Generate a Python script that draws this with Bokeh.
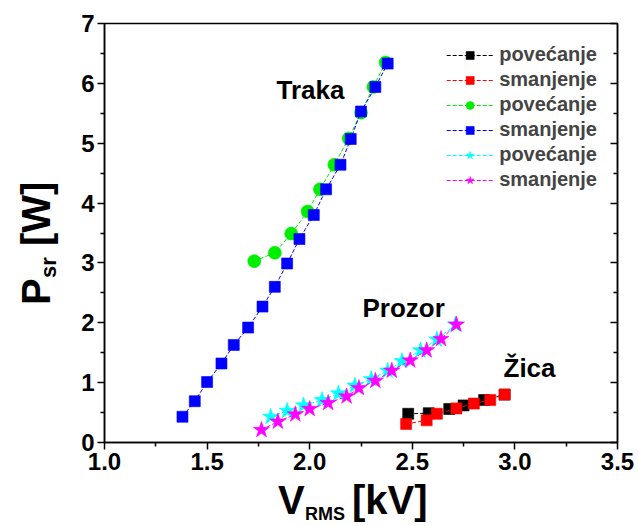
from bokeh.plotting import figure
from bokeh.models import (Range1d, LinearAxis, Label, Legend, LegendItem, FixedTicker,
                          CustomJSTickFormatter, Div)
from bokeh.layouts import row, column
from bokeh.embed import file_html
from bokeh.resources import INLINE

# ---- data ----
zica_up_x = [2.48, 2.58, 2.68, 2.75, 2.85, 2.95]
zica_up_y = [0.48, 0.49, 0.56, 0.62, 0.71, 0.80]
zica_dn_x = [2.47, 2.57, 2.62, 2.715, 2.80, 2.88, 2.95]
zica_dn_y = [0.31, 0.37, 0.48, 0.57, 0.65, 0.71, 0.80]

traka_up_x = [1.73, 1.83, 1.91, 1.99, 2.05, 2.12, 2.19, 2.25, 2.31, 2.37]
traka_up_y = [3.03, 3.17, 3.49, 3.86, 4.23, 4.64, 5.08, 5.51, 5.94, 6.35]
traka_dn_x = [1.38, 1.44, 1.50, 1.57, 1.63, 1.70, 1.77, 1.83, 1.89, 1.95,
              2.02, 2.08, 2.15, 2.20, 2.25, 2.32, 2.38]
traka_dn_y = [0.43, 0.69, 1.01, 1.32, 1.63, 1.92, 2.27, 2.60, 2.99, 3.40,
              3.80, 4.23, 4.64, 5.07, 5.53, 5.94, 6.33]

prozor_up_x = [1.81, 1.89, 1.97, 2.06, 2.14, 2.22, 2.30, 2.38, 2.45, 2.54, 2.62, 2.71]
prozor_up_y = [0.43, 0.53, 0.62, 0.71, 0.82, 0.95, 1.06, 1.20, 1.36, 1.54, 1.72, 1.97]
prozor_dn_x = [1.765, 1.845, 1.93, 2.00, 2.09, 2.18, 2.24, 2.32, 2.40, 2.49, 2.57, 2.64, 2.715]
prozor_dn_y = [0.21, 0.35, 0.47, 0.56, 0.66, 0.77, 0.91, 1.03, 1.20, 1.37, 1.54, 1.73, 1.97]

series_labels = ["povećanje", "smanjenje", "povećanje", "smanjenje", "povećanje", "smanjenje"]
x_ticks = [1.0, 1.5, 2.0, 2.5, 3.0, 3.5]
y_ticks = [0, 1, 2, 3, 4, 5, 6, 7]

FONT = "Liberation Sans"

# ---- layout geometry (page pixels) ----
W, H = 638, 526
YW = 60                 # width of the y-title block
FL, FT, FW, FH = 104, 23, 513, 419
MB = 40
MH = FT + FH + MB       # main figure height
XH = H - MH             # height of the x-title block

p = figure(title=None, frame_width=FW, frame_height=FH, output_backend="svg",
           toolbar_location=None, x_range=Range1d(1.0, 3.5), y_range=Range1d(0, 7),
           min_border_left=FL - YW, min_border_right=W - FL - FW,
           min_border_top=FT, min_border_bottom=MB)
p.background_fill_color = "white"
p.border_fill_color = "white"
p.xgrid.visible = False
p.ygrid.visible = False
p.outline_line_color = "black"
p.outline_line_width = 1.5


def style_axis(ax, ticks, show_labels=True, inward=False):
    step = ticks[1] - ticks[0]
    ax.ticker = FixedTicker(ticks=ticks, minor_ticks=[t + step / 2 for t in ticks[:-1]])
    ax.axis_line_width = 1.5
    ax.major_tick_line_width = 1.5
    ax.minor_tick_line_width = 1.5
    if inward:
        ax.major_tick_in, ax.major_tick_out = 7, 0
        ax.minor_tick_in, ax.minor_tick_out = 4, 0
    else:
        ax.major_tick_in, ax.major_tick_out = 0, 7
        ax.minor_tick_in, ax.minor_tick_out = 0, 4
    ax.major_label_text_font = FONT
    ax.major_label_text_font_style = "bold"
    ax.major_label_text_font_size = "24px"
    ax.major_label_text_color = "black"
    ax.major_label_standoff = 3
    if not show_labels:
        ax.formatter = CustomJSTickFormatter(code="return '';")
        ax.major_label_standoff = 0


style_axis(p.xaxis[0], x_ticks)
p.xaxis[0].formatter = CustomJSTickFormatter(code="return tick.toFixed(1);")
style_axis(p.yaxis[0], y_ticks)

right = LinearAxis()
style_axis(right, y_ticks, show_labels=False, inward=True)
p.add_layout(right, "right")

items = []


def series(x, y, color, marker, size, label):
    ln = p.line(x, y, line_color=color, line_width=1, line_dash="4 2")
    s = p.scatter(x, y, marker=marker, size=size, fill_color=color,
                  line_color=color, line_alpha=0.6)
    items.append(LegendItem(label=label, renderers=[ln, s]))


series(zica_up_x, zica_up_y, "#000000", "square", 11, series_labels[0])
series(zica_dn_x, zica_dn_y, "#FF0000", "square", 11, series_labels[1])
series(traka_up_x, traka_up_y, "#00EE00", "circle", 13, series_labels[2])
series(traka_dn_x, traka_dn_y, "#0000FF", "square", 11, series_labels[3])
series(prozor_up_x, prozor_up_y, "#00FFFF", "star", 17, series_labels[4])
series(prozor_dn_x, prozor_dn_y, "#FF00FF", "star", 17, series_labels[5])

legend = Legend(items=items, location="top_right")
legend.border_line_color = None
legend.background_fill_alpha = 0
legend.label_text_font = FONT
legend.label_text_font_style = "bold"
legend.label_text_font_size = "20px"
legend.glyph_width = 47
legend.glyph_height = 20
legend.label_standoff = 6
legend.spacing = 2
legend.padding = 0
legend.margin = 20
p.add_layout(legend)


def dx(px):
    return 1.0 + (px - FL) * 2.5 / FW


def dy(py):
    return (FT + FH - py) * 7.0 / FH


def txt(text, px, py, size):
    p.add_layout(Label(x=dx(px), y=dy(py), text=text, text_font=FONT, text_font_style="bold",
                       text_font_size=size, text_color="black",
                       text_align="left", text_baseline="alphabetic"))


txt("Traka", 276, 89, "26px")
txt("Prozor", 362, 307, "26px")
txt("Žica", 503, 367, "26px")


# ---- axis titles as HTML text blocks ----
def span(text, left, top, size, rotate=False):
    rot = "transform:rotate(-90deg);transform-origin:0 0;" if rotate else ""
    return (f'<span style="position:absolute;left:{left}px;top:{top}px;'
            f'font-size:{size}px;line-height:{size}px;white-space:nowrap;{rot}">{text}</span>')


def block(w, h, inner):
    return (f'<div style="position:relative;width:{w}px;height:{h}px;overflow:visible;'
            f'font-family:\'{FONT}\';font-weight:bold;color:#000;">{inner}</div>')


y_html = block(YW, MH,
               span("P", 16, 305, 40, True)
               + span("sr", 38, 278, 22, True)
               + span("[W]", 16, 246, 40, True))
x_html = block(W, XH,
               span("V", 278, -2, 40)
               + span("RMS", 305, 23, 18)
               + span("[kV]", 352, -2, 40))

ydiv = Div(text=y_html, width=YW, height=MH, margin=0)
xdiv = Div(text=x_html, width=W, height=XH, margin=0)

layout = column(row(ydiv, p, spacing=0), xdiv, spacing=0)
open("out.html", "w").write(file_html(layout, INLINE))
